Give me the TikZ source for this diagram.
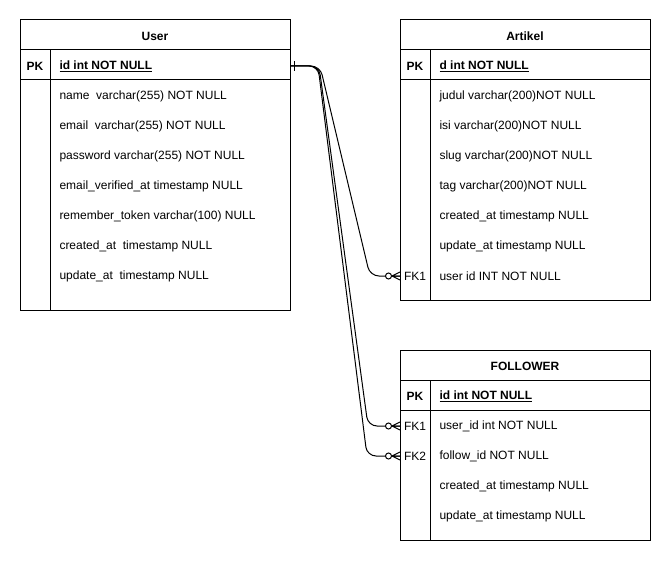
\documentclass[tikz,border=0pt]{standalone}
\usepackage{fontspec}
\setmainfont{Liberation Sans}
\begin{document}
\begin{tikzpicture}[x=1pt,y=-1pt,line width=1pt,
  tbl/.style={draw,rectangle,anchor=north west,inner sep=0pt,outer sep=0pt},
  hdr/.style={inner sep=0pt,font=\bfseries\fontsize{12}{14}\selectfont},
  keycol/.style={inner sep=0pt,font=\fontsize{12}{14}\selectfont},
  pkey/.style={inner sep=0pt,font=\bfseries\fontsize{12}{14}\selectfont},
  fld/.style={anchor=west,inner sep=0pt,font=\fontsize{12}{14}\selectfont},
  pkfld/.style={anchor=west,inner sep=0pt,font=\bfseries\fontsize{12}{14}\selectfont},
  rel/.style={draw,line width=1pt,rounded corners=9pt}]
\useasboundingbox (0,0) rectangle (671,561);

% ---------- User ----------
\node[tbl,minimum width=270pt,minimum height=290pt] (user) at (20,20) {};
\draw (20,50) -- (290,50) (20,80) -- (290,80) (50,50) -- (50,310);
\node[hdr] (userT) at (155,36) {User};
\node[pkey] (userPKk) at (35,66) {PK};
\node[pkfld] (userPK) at (59,66) {\underline{id int NOT NULL}};
\node[fld] (u1) at (59,96) {name\ \ varchar(255) NOT NULL};
\node[fld] (u2) at (59,126) {email\ \ varchar(255) NOT NULL};
\node[fld] (u3) at (59,156) {password varchar(255) NOT NULL};
\node[fld] (u4) at (59,186) {email\_verified\_at timestamp NULL};
\node[fld] (u5) at (59,216) {remember\_token varchar(100) NULL};
\node[fld] (u6) at (59,246) {created\_at\ \ timestamp NULL};
\node[fld] (u7) at (59,276) {update\_at\ \ timestamp NULL};

% ---------- Artikel ----------
\node[tbl,minimum width=250pt,minimum height=280pt] (art) at (400,20) {};
\draw (400,50) -- (650,50) (400,80) -- (650,80) (430,50) -- (430,300);
\node[hdr] (artT) at (525,36) {Artikel};
\node[pkey] (artPKk) at (415,66) {PK};
\node[pkfld] (artPK) at (439,66) {\underline{d int NOT NULL}};
\node[fld] (a1) at (439,96) {judul varchar(200)NOT NULL};
\node[fld] (a2) at (439,126) {isi varchar(200)NOT NULL};
\node[fld] (a3) at (439,156) {slug varchar(200)NOT NULL};
\node[fld] (a4) at (439,186) {tag varchar(200)NOT NULL};
\node[fld] (a5) at (439,216) {created\_at timestamp NULL};
\node[fld] (a6) at (439,246) {update\_at timestamp NULL};
\node[keycol] (artFKk) at (415,276) {FK1};
\node[fld] (a7) at (439,276) {user id INT NOT NULL};

% ---------- FOLLOWER ----------
\node[tbl,minimum width=250pt,minimum height=190pt] (fol) at (400,350) {};
\draw (400,380) -- (650,380) (400,410) -- (650,410) (430,380) -- (430,540);
\node[hdr] (folT) at (525,366) {FOLLOWER};
\node[pkey] (folPKk) at (415,396) {PK};
\node[pkfld] (folPK) at (439,396) {\underline{id int NOT NULL}};
\node[keycol] (folFK1k) at (415,426) {FK1};
\node[fld] (f1) at (439,426) {user\_id int NOT NULL};
\node[keycol] (folFK2k) at (415,456) {FK2};
\node[fld] (f2) at (439,456) {follow\_id NOT NULL};
\node[fld] (f3) at (439,486) {created\_at timestamp NULL};
\node[fld] (f4) at (439,516) {update\_at timestamp NULL};

% ---------- relationships ----------
\coordinate (uOut) at (user.east |- userPK.west);
\coordinate (aIn) at (art.west |- artFKk);
\coordinate (f1In) at (fol.west |- folFK1k);
\coordinate (f2In) at (fol.west |- folFK2k);

\path[rel] (uOut) -- ([xshift=30pt]uOut) -- ([xshift=-30pt]aIn) -- (aIn);
\path[rel] (uOut) -- ([xshift=29pt]uOut) -- ([xshift=-32pt]f1In) -- (f1In);
\path[rel] (uOut) -- ([xshift=28pt]uOut) -- ([xshift=-33pt]f2In) -- (f2In);

% mandatory-one bar at the User side
\draw ([xshift=4pt,yshift=-5pt]uOut) -- ([xshift=4pt,yshift=5pt]uOut);

% zero-or-many markers at the referencing side
\foreach \c in {aIn,f1In,f2In}{
  \draw[fill=white] ([xshift=-11.5pt]\c) circle (3pt);
  \draw ([xshift=-8pt]\c) -- ([yshift=-4pt]\c)
        ([xshift=-8pt]\c) -- (\c)
        ([xshift=-8pt]\c) -- ([yshift=4pt]\c);
}
\end{tikzpicture}
\end{document}
